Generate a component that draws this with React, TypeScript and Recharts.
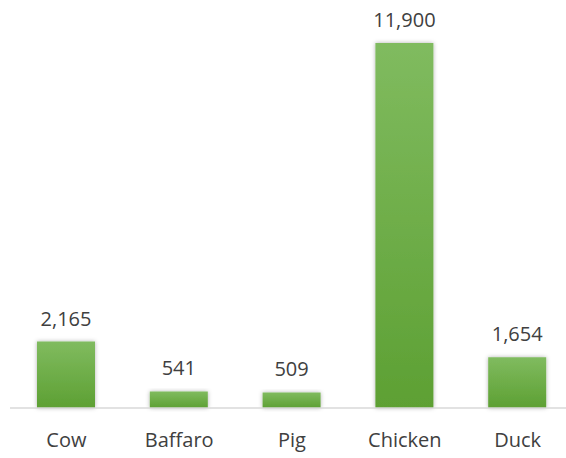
import { BarChart, Bar, XAxis, YAxis, LabelList } from 'recharts';

const animals = ['Cow', 'Baffaro', 'Pig', 'Chicken', 'Duck'];
const counts = [2165, 541, 509, 11900, 1654];

const data = animals.map((name, i) => ({ name, count: counts[i] }));

export default function App() {
    return (
        <div style={{ position: 'absolute', left: 0, top: 0, width: 566, height: 458, overflow: 'hidden', background: '#fff' }}>
            <BarChart
                width={574}
                height={458}
                data={data}
                margin={{ top: 43, right: 0, bottom: 0, left: 10 }}
                barSize={58}
            >
                <defs>
                    <linearGradient id="greenFill" x1="0" y1="0" x2="0" y2="1">
                        <stop offset="0%" stopColor="#80bb5f" />
                        <stop offset="100%" stopColor="#5da033" />
                    </linearGradient>
                    <filter id="barShadow" x="-20%" y="-20%" width="140%" height="140%">
                        <feDropShadow dx="0" dy="0" stdDeviation="2" floodColor="#000" floodOpacity="0.3" />
                    </filter>
                </defs>
                <XAxis
                    dataKey="name"
                    height={50}
                    axisLine={{ stroke: '#d9d9d9', strokeWidth: 1.5 }}
                    tickLine={false}
                    tick={{ fill: '#404040', fontSize: 20, fontFamily: 'Open Sans' }}
                    tickMargin={19}
                    interval={0}
                />
                <YAxis hide domain={[0, 11900]} />
                <Bar dataKey="count" fill="url(#greenFill)" filter="url(#barShadow)" isAnimationActive={false}>
                    <LabelList
                        dataKey="count"
                        position="top"
                        offset={16}
                        formatter={(v: any) => Number(v).toLocaleString('en-US')}
                        style={{ fill: '#404040', fontSize: 20, fontFamily: 'Open Sans' }}
                    />
                </Bar>
            </BarChart>
        </div>
    );
}
